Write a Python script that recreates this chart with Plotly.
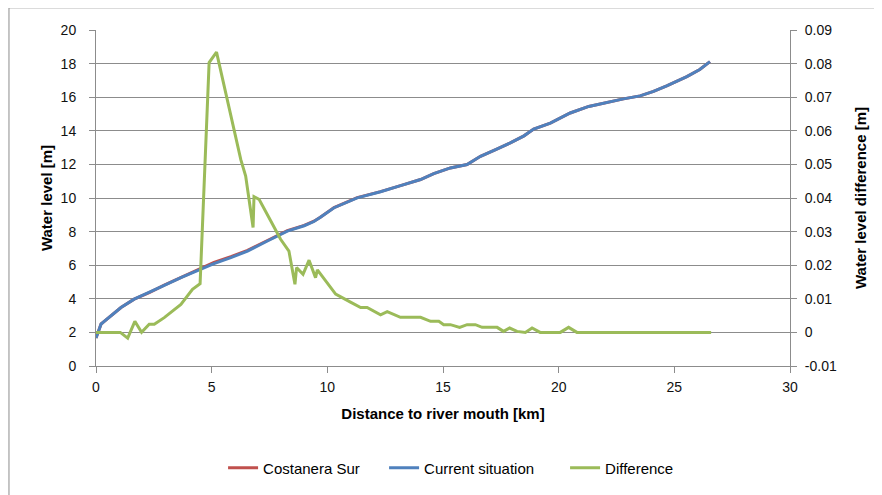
import plotly.graph_objects as go

# Current situation (blue)
x_current = [0, 0.22, 0.33, 0.7, 1.08, 1.65, 2.3, 2.95, 3.67, 4.53, 5.1, 5.83, 6.55, 7.41, 8.27, 9.0,
             9.42, 9.7, 10.29, 11.29, 12.3, 13.2, 14.03, 14.6, 15.32, 16.04, 16.62, 17.3, 17.91, 18.5,
             18.92, 19.64, 20.5, 21.3, 22.08, 22.8, 23.52, 24.1, 24.67, 25.54, 26.1, 26.54]
y_current = [1.66, 2.5, 2.63, 3.05, 3.48, 3.98, 4.37, 4.8, 5.26, 5.76, 6.09, 6.45, 6.84, 7.44, 8.03, 8.35,
             8.6, 8.85, 9.42, 10.01, 10.37, 10.75, 11.1, 11.45, 11.79, 11.99, 12.48, 12.9, 13.28, 13.7,
             14.1, 14.46, 15.06, 15.45, 15.69, 15.9, 16.08, 16.35, 16.68, 17.23, 17.65, 18.12]

# Costanera Sur (red) - nearly identical, slightly above between 5 and 10 km
x_costanera = x_current
y_costanera = [1.66, 2.5, 2.63, 3.05, 3.48, 3.98, 4.37, 4.81, 5.27, 5.78, 6.17, 6.51, 6.88, 7.47, 8.06, 8.37,
               8.62, 8.86, 9.43, 10.02, 10.38, 10.75, 11.1, 11.45, 11.79, 11.99, 12.48, 12.9, 13.28, 13.7,
               14.1, 14.46, 15.06, 15.45, 15.69, 15.9, 16.08, 16.35, 16.68, 17.23, 17.65, 18.12]

# Difference (green, right axis)
x_diff = [0, 1.05, 1.37, 1.68, 1.97, 2.3, 2.52, 2.95, 3.67, 4.17, 4.5, 4.89, 5.21, 6.26, 6.47, 6.79, 6.83,
          7.05, 7.48, 7.98, 8.34, 8.6, 8.67, 8.95, 9.21, 9.49, 9.57, 10.36, 11.0, 11.44, 11.72, 12.3,
          12.59, 13.16, 14.03, 14.46, 14.82, 15.03, 15.32, 15.72, 16.04, 16.4, 16.69, 17.34, 17.62,
          17.88, 18.2, 18.56, 18.85, 19.2, 20.07, 20.43, 20.79, 26.59]
y_diff = [0, 0, -0.0017, 0.0033, 0, 0.0024, 0.0024, 0.0044, 0.0083, 0.0128, 0.0145, 0.0803, 0.0834, 0.0514,
          0.0465, 0.0312, 0.0404, 0.0396, 0.0341, 0.0277, 0.0242, 0.0143, 0.0193, 0.0173, 0.0215, 0.0163,
          0.0186, 0.0114, 0.009, 0.0074, 0.0074, 0.0052, 0.0062, 0.0045, 0.0045, 0.0033, 0.0033, 0.0023,
          0.0023, 0.0015, 0.0023, 0.0023, 0.0015, 0.0015, 0.0003, 0.0013, 0.0003, 0, 0.0013, 0, 0, 0.0015,
          0, 0]

x_ticks = [0, 5, 10, 15, 20, 25, 30]
y_ticks = [0, 2, 4, 6, 8, 10, 12, 14, 16, 18, 20]
y2_ticks = [-0.01, 0, 0.01, 0.02, 0.03, 0.04, 0.05, 0.06, 0.07, 0.08, 0.09]
y2_labels = ["-0.01", "0", "0.01", "0.02", "0.03", "0.04", "0.05", "0.06", "0.07", "0.08", "0.09"]

FONT = "Liberation Sans"
GRID = "#8c8c8c"
TICKFONT = dict(size=14, color="#111111")
TITLEFONT = dict(size=15, color="#000000")

fig = go.Figure()
fig.add_trace(go.Scatter(x=x_costanera, y=y_costanera, name="Costanera Sur", mode="lines",
                         line=dict(color="#C0504D", width=3), legend="legend"))
fig.add_trace(go.Scatter(x=x_current, y=y_current, name="Current situation", mode="lines",
                         line=dict(color="#4F81BD", width=3), legend="legend2"))
fig.add_trace(go.Scatter(x=x_diff, y=y_diff, name="Difference", mode="lines", yaxis="y2",
                         line=dict(color="#9BBB59", width=3), legend="legend3"))

LEG = dict(orientation="h", xanchor="left", y=-0.30, yanchor="middle",
           font=dict(size=15), bgcolor="rgba(0,0,0,0)")

fig.update_layout(
    width=874, height=487,
    margin=dict(l=88, r=92, t=22, b=128),
    paper_bgcolor="white", plot_bgcolor="white",
    font=dict(family=FONT, size=14, color="#000000"),
    showlegend=True,
    legend=dict(LEG, x=0.1831),
    legend2=dict(LEG, x=0.4151),
    legend3=dict(LEG, x=0.6759),
    xaxis=dict(range=[0, 30], tickvals=x_ticks, showgrid=False, zeroline=False,
               showline=True, linecolor=GRID, linewidth=1, ticks="outside", ticklen=6,
               tickcolor=GRID, tickfont=TICKFONT, ticklabelstandoff=2,
               title=dict(text="<b>Distance to river mouth [km]</b>", font=TITLEFONT, standoff=14)),
    yaxis=dict(range=[0, 20], tickvals=y_ticks, showgrid=True, gridcolor=GRID, gridwidth=1,
               zeroline=False, showline=True, linecolor=GRID, linewidth=1, ticks="outside",
               ticklen=6, tickcolor=GRID, tickfont=TICKFONT, ticklabelstandoff=10,
               title=dict(text="<b>Water level [m]</b>", font=TITLEFONT, standoff=4)),
    yaxis2=dict(range=[-0.01, 0.09], tickvals=y2_ticks, ticktext=y2_labels, overlaying="y",
                side="right", showgrid=False, zeroline=False, showline=True, linecolor=GRID,
                linewidth=1, ticks="outside", ticklen=6, tickcolor=GRID, tickfont=TICKFONT,
                ticklabelstandoff=5,
                title=dict(text="<b>Water level difference [m]</b>", font=TITLEFONT, standoff=19)),
)

# outer chart border (only top and left edges fall inside the picture)
fig.add_shape(type="line", xref="paper", yref="paper", x0=-0.1254, x1=-0.1254, y0=1.066, y1=-0.5,
              line=dict(color="#8c8c8c", width=1))
fig.add_shape(type="line", xref="paper", yref="paper", x0=-0.1254, x1=1.3, y0=1.066, y1=1.066,
              line=dict(color="#8c8c8c", width=1))

fig.write_html("out.html")
